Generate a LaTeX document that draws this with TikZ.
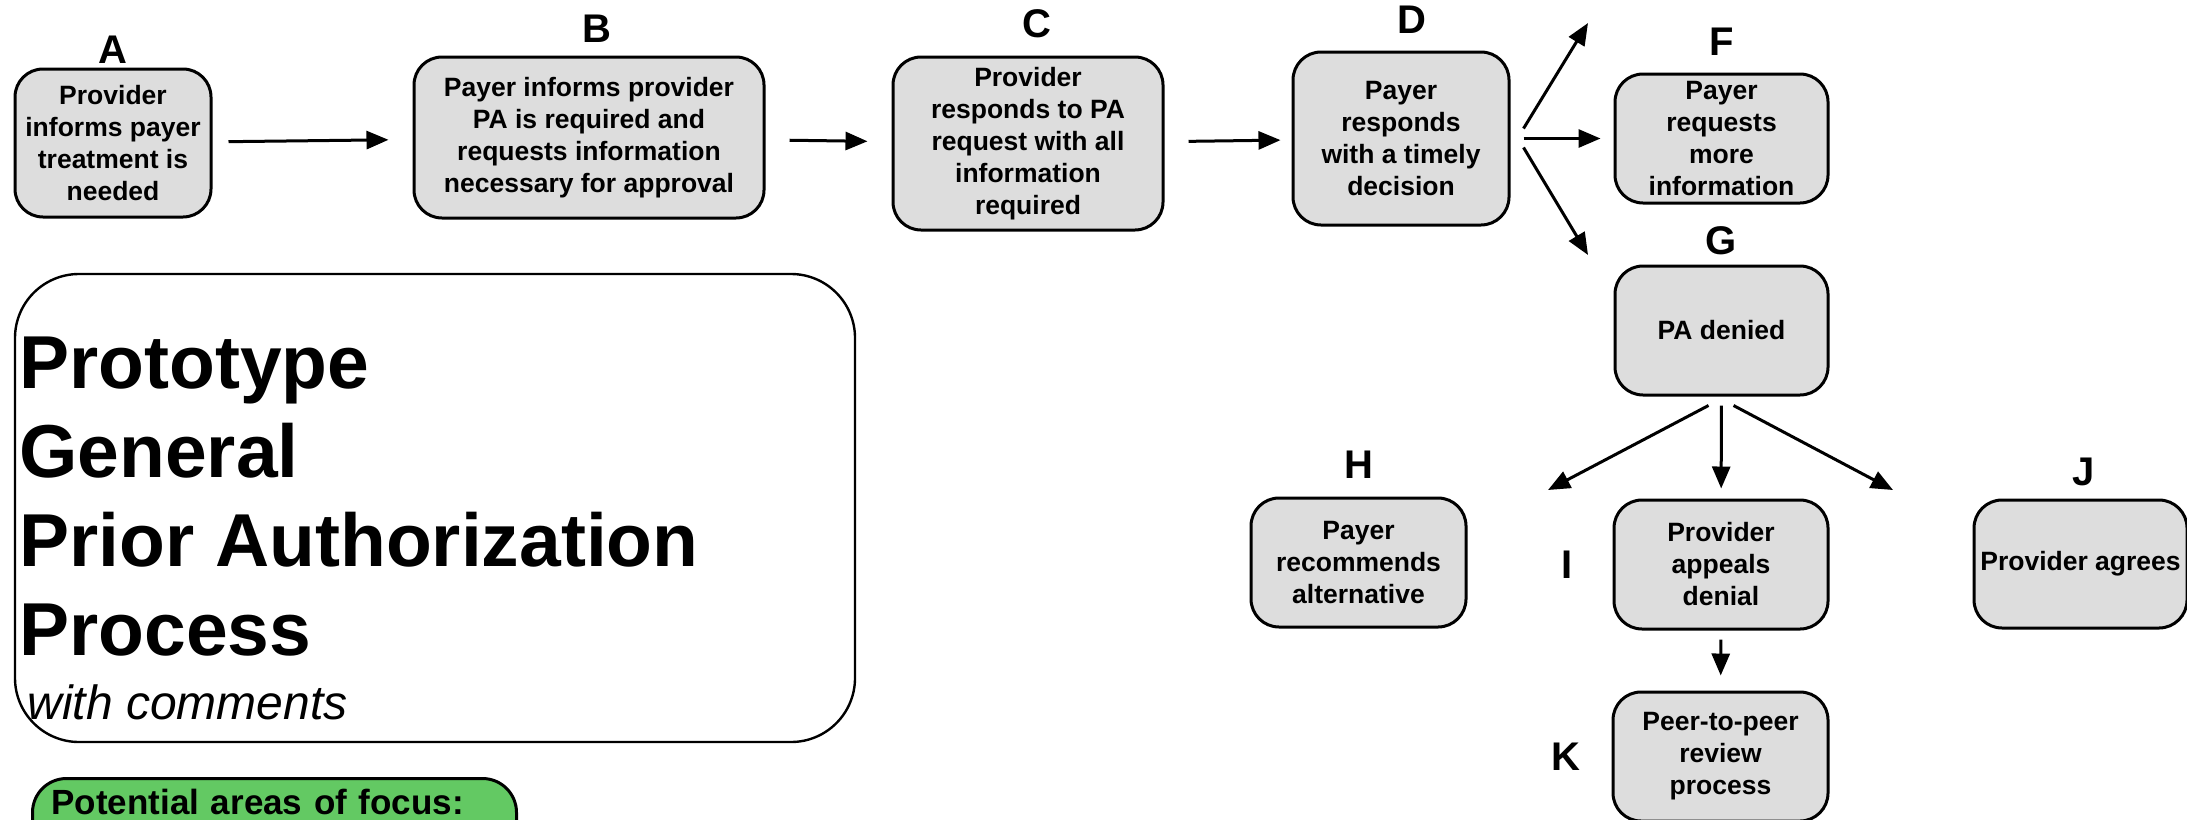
\documentclass[tikz,border=0pt]{standalone}
\usepackage{fontspec}
\setmainfont{Liberation Sans}
\usepackage{xcolor}
\usetikzlibrary{arrows.meta,positioning}
\definecolor{boxgray}{RGB}{221,221,221}
\definecolor{focusgreen}{RGB}{99,201,99}

\begin{document}
\begin{tikzpicture}[
  x=0.5pt, y=-0.5pt,
  stage/.style={draw, fill=boxgray, line width=1.5pt, rounded corners=14pt,
    align=center, inner sep=0pt, font=\fontsize{13.25}{16}\selectfont\bfseries},
  tag/.style={inner sep=0pt, font=\fontsize{20}{24}\selectfont\bfseries},
  arr/.style={-{Triangle[length=11pt,width=9pt]}, line width=1.5pt},
  focus/.style={draw, fill=focusgreen, line width=1.5pt, rounded corners=17pt,
    anchor=north west, align=left, text width=223pt, inner xsep=9.5pt,
    inner ysep=5pt, text height=13pt, text depth=40pt,
    font=\fontsize{17.5}{21}\selectfont\bfseries},
]
\useasboundingbox (0,0) rectangle (2187,819);

\node[stage, minimum width=98pt, minimum height=74pt] (A) at (113,143)
  {Provider\\informs payer\\treatment is\\needed};
\node[stage, minimum width=175pt, minimum height=80.5pt] (B) at (589,137.5)
  {Payer informs provider\\PA is required and\\requests information\\necessary for approval};
\node[stage, minimum width=135pt, minimum height=86.5pt] (C) at (1028,143.5)
  {Provider\\responds to PA\\request with all\\information\\required};
\node[stage, minimum width=108pt, minimum height=86.5pt] (D) at (1401,138.5)
  {Payer\\responds\\with a timely\\decision};
\node[stage, minimum width=106.5pt, minimum height=64.5pt] (F) at (1721.5,138.5)
  {Payer\\requests\\more\\information};
\node[stage, minimum width=106.5pt, minimum height=64.5pt] (G) at (1721.5,330.5)
  {PA denied};
\node[stage, minimum width=107.5pt, minimum height=64.5pt] (H) at (1358.5,562.5)
  {Payer\\recommends\\alternative};
\node[stage, minimum width=107pt, minimum height=64.5pt] (I) at (1721,564.5)
  {Provider\\appeals\\denial};
\node[stage, minimum width=106.5pt, minimum height=64pt] (J) at (2080.5,564)
  {Provider agrees};
\node[stage, minimum width=107.5pt, minimum height=64.5pt] (K) at (1720.5,756.5)
  {Peer-to-peer\\review\\process};

\node[tag, above=2pt of A] (tagA) {A};
\node[tag, above=6.5pt of B, xshift=4pt] (tagB) {B};
\node[tag, above=8.5pt of C, xshift=4.5pt] (tagC) {C};
\node[tag, above=8.5pt of D, xshift=5.5pt] (tagD) {D};
\node[tag, above=8.5pt of F] (tagF) {F};
\node[tag, above=4.5pt of G] (tagG) {G};
\node[tag, above=9pt of H] (tagH) {H};
\node[tag, left=20pt of I] (tagI) {I};
\node[tag, above=6pt of J, xshift=1.5pt] (tagJ) {J};
\node[tag, left=15.5pt of K] (tagK) {K};

\coordinate (approveEnd) at (1588,23);
\coordinate (deniedEnd) at (1588,255);
\coordinate (altEnd) at (1548,490);
\coordinate (agreeEnd) at (1893,490);

\draw[arr, shorten <=8pt, shorten >=12pt] (A) -- (B);
\draw[arr, shorten <=12pt, shorten >=12pt] (B) -- (C);
\draw[arr, shorten <=12pt, shorten >=5.5pt] (C) -- (D);
\draw[arr] ([shift={(6.5pt,5pt)}]D.east) -- (approveEnd);
\draw[arr, shorten <=6.5pt, shorten >=6.5pt] (D) -- (F);
\draw[arr] ([shift={(6.5pt,-4.5pt)}]D.east) -- (deniedEnd);
\draw[arr] ([shift={(-6.5pt,-4.5pt)}]G.south) -- (altEnd);
\draw[arr, shorten <=4.5pt, shorten >=5pt] (G) -- (I);
\draw[arr] ([shift={(6pt,-4.5pt)}]G.south) -- (agreeEnd);
\draw[arr, shorten <=4.5pt, shorten >=7.5pt] (I) -- (K);

\node[draw, line width=1.2pt, rounded corners=32pt, minimum width=420pt,
  minimum height=234pt] (frame) at (435,508) {};
\node[anchor=base west, align=left, inner sep=0pt,
  font=\fontsize{37.5}{44.5}\selectfont\bfseries] (title) at (19,655)
  {Prototype\\General\\Prior Authorization\\Process};
\node[anchor=base west, inner sep=0pt, font=\fontsize{24}{28}\selectfont\itshape]
  (subtitle) at (27,719) {with comments};

\node[focus] (areas) at (31,777) {Potential areas of focus:};
\end{tikzpicture}
\end{document}
